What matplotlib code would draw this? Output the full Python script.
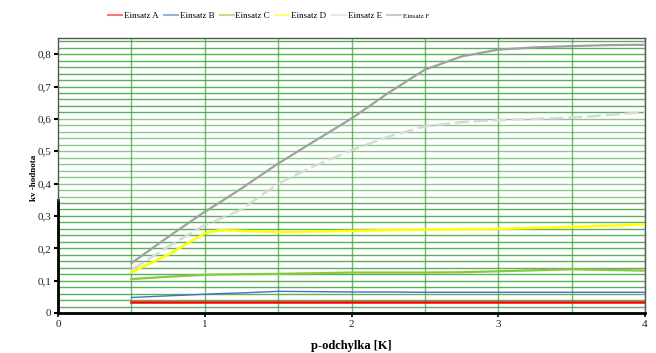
import matplotlib
matplotlib.use("Agg")
import matplotlib.pyplot as plt
import numpy as np

plt.rcParams['font.family'] = ['Liberation Serif', 'DejaVu Serif']

x = [0.5, 0.75, 1.0, 1.1, 1.25, 1.5, 1.75, 2.0, 2.25, 2.5, 2.75, 3.0, 3.25, 3.5, 3.75, 4.0]
einsatz_a = [0.033, 0.033, 0.033, 0.033, 0.033, 0.033, 0.033, 0.033, 0.033, 0.033, 0.033, 0.033, 0.033, 0.033, 0.033, 0.033]
einsatz_b = [0.048, 0.053, 0.058, 0.060, 0.062, 0.067, 0.066, 0.065, 0.065, 0.064, 0.064, 0.064, 0.064, 0.064, 0.064, 0.064]
einsatz_c = [0.105, 0.112, 0.118, 0.119, 0.120, 0.121, 0.123, 0.125, 0.125, 0.125, 0.126, 0.129, 0.132, 0.135, 0.133, 0.131]
einsatz_d = [0.126, 0.180, 0.246, 0.256, 0.254, 0.250, 0.252, 0.254, 0.256, 0.258, 0.259, 0.260, 0.263, 0.266, 0.270, 0.274]
einsatz_e = [0.133, 0.205, 0.272, 0.290, 0.320, 0.400, 0.455, 0.503, 0.545, 0.577, 0.590, 0.596, 0.600, 0.604, 0.612, 0.621]
einsatz_f = [0.154, 0.235, 0.313, 0.341, 0.385, 0.462, 0.532, 0.601, 0.680, 0.752, 0.793, 0.814, 0.821, 0.825, 0.828, 0.829]

labels = ['Einsatz A', 'Einsatz B', 'Einsatz C', 'Einsatz D', 'Einsatz E', 'Einsatz F']
x_ticks = [0, 1, 2, 3, 4]
y_ticks = [0, 0.1, 0.2, 0.3, 0.4, 0.5, 0.6, 0.7, 0.8]
y_tick_labels = ['0', '0,1', '0,2', '0,3', '0,4', '0,5', '0,6', '0,7', '0,8']

fig = plt.figure(figsize=(6.56, 3.53), dpi=100)
ax = fig.add_axes([58/656, 1 - 313/353, (645-58)/656, (313-38)/353])
ax.set_xlim(0, 4)
ax.set_ylim(0, 0.85)

# grid
for gy in np.arange(0.02, 0.85, 0.02):
    ax.axhline(gy, color='#3fa33f', lw=1.0, alpha=0.85 if gy > 0.6 or gy < 0.35 else 0.6, zorder=1)
for gx in np.arange(0.5, 4.01, 0.5):
    ax.axvline(gx, color='#3fa33f', lw=1.0, alpha=0.75, zorder=1)

ax.plot(x, einsatz_a, color='#ff0000', lw=1.8, label=labels[0], zorder=3)
ax.plot(x, einsatz_b, color='#4472c4', lw=1.0, label=labels[1], zorder=3)
ax.plot(x, einsatz_c, color='#8cc63f', lw=1.6, label=labels[2], zorder=3)
ax.plot(x, einsatz_d, color='#ffff00', lw=1.8, label=labels[3], zorder=3)
ax.plot(x, einsatz_e, color='#d8d8d8', lw=1.7, ls=(0, (6, 2)), label=labels[4], zorder=3)
ax.plot(x, einsatz_f, color='#a0a0a0', lw=1.6, label=labels[5], zorder=3)

for s in ['top', 'right']:
    ax.spines[s].set_color('#555555')
    ax.spines[s].set_linewidth(1)
ax.spines['left'].set_visible(False)
ax.spines['bottom'].set_color('black')
ax.spines['bottom'].set_linewidth(2)
ax.axvline(0, ymin=0, ymax=0.35/0.85, color='black', lw=2, zorder=4, clip_on=False)
ax.axvline(0, ymin=0.35/0.85, ymax=1, color='#555555', lw=1, zorder=4, clip_on=False)

ax.set_xticks(x_ticks)
ax.set_xticklabels([str(t) for t in x_ticks], fontsize=8, color='#222222')
ax.set_yticks(y_ticks)
ax.set_yticklabels(y_tick_labels, fontsize=8, color='#222222')
ax.tick_params(axis='y', length=3, width=1.5, color='black', pad=2)
ax.tick_params(axis='x', length=3, width=1.2, color='black', pad=2)

ax.set_xlabel('p-odchylka [K]', fontsize=9, fontweight='bold', labelpad=8)
ax.set_ylabel('kv -hodnota', fontsize=6.5, fontweight='bold')
ax.yaxis.set_label_coords(-0.034, 0.49)

leg = ax.legend(loc='center left', bbox_to_anchor=(0.085, 1.08), ncol=6, frameon=False,
                fontsize=6.5, handlelength=1.55, handletextpad=0.2, columnspacing=0.6,
                borderaxespad=0, borderpad=0)
for h in leg.legend_handles:
    h.set_alpha(0.55)
    h.set_linewidth(1.5)
    h.set_linestyle('-')
leg.get_texts()[5].set_fontsize(5)

fig.savefig('out.png', dpi=100)
